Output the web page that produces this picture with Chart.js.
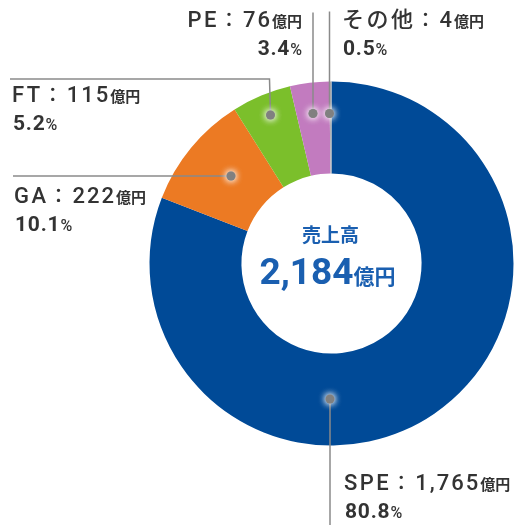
<!DOCTYPE html>
<html lang="ja">
<head>
<meta charset="utf-8">
<script src="https://cdn.jsdelivr.net/npm/chart.js@4/dist/chart.umd.min.js"></script>
<style>
  html, body { margin: 0; padding: 0; background: #fff; }
  canvas { display: block; }
</style>
</head>
<body>
<canvas id="sales" width="518" height="525"></canvas>
<script>
// 売上高の内訳（億円）
const segments = ['SPE', 'GA', 'FT', 'PE', 'その他'];
const amounts = [1765, 222, 115, 76, 4];
const shares = ['80.8', '10.1', '5.2', '3.4', '0.5'];
const totalLabel = '2,184';

const COLORS = ['#004a97', '#ec7a23', '#7bbf2b', '#c27bbf', '#b4b4b4'];
const TEXT = '#333333';
const BLUE_TEXT = '#1a5fb0';
const LATIN = '"Roboto", "Noto Sans CJK JP", sans-serif';

// 引き出し線：中心からの点の位置、線の折れ点、ラベル位置
const callouts = [
  { dot: [-1.5, 135.5], path: [[-1.5, 262]], label: [344, 490], align: 'left' },   // SPE
  { dot: [-100.5, -87.5], path: [[-318.5, -87.5]], label: [14, 203], align: 'left' }, // GA
  { dot: [-61, -148.5], path: [[-62, -184.5], [-321.5, -184.5]], label: [12, 102], align: 'left' }, // FT
  { dot: [-18.5, -150], path: [[-18.5, -251]], label: [302, 27], align: 'right' },  // PE
  { dot: [-2, -150], path: [[-2, -252]], label: [342, 27], align: 'left' },         // その他
];

// 文字片を並べて描く： [text, font, letterSpacing, 後ろの余白]
const drawParts = (ctx, parts, x, y, align) => {
  const widths = parts.map(([t, font, ls = 0, gap = 0]) => {
    ctx.font = font;
    ctx.letterSpacing = ls + 'px';
    return ctx.measureText(t).width + gap;
  });
  const total = widths.reduce((a, b) => a + b, 0);
  let cx = align === 'right' ? x - total : align === 'center' ? x - total / 2 : x;
  ctx.textAlign = 'left';
  ctx.textBaseline = 'alphabetic';
  parts.forEach(([t, font, ls = 0], i) => {
    ctx.font = font;
    ctx.letterSpacing = ls + 'px';
    ctx.fillText(t, cx, y);
    cx += widths[i];
  });
  ctx.letterSpacing = '0px';
};

const calloutPlugin = {
  id: 'callouts',
  afterDraw(chart) {
    const { ctx } = chart;
    const arc = chart.getDatasetMeta(0).data[0];
    const ox = arc.x, oy = arc.y;
    ctx.save();

    callouts.forEach((c, i) => {
      const dx = ox + c.dot[0], dy = oy + c.dot[1];
      // 線
      ctx.strokeStyle = '#8a8a8a';
      ctx.lineWidth = 1.5;
      ctx.beginPath();
      ctx.moveTo(dx, dy);
      c.path.forEach(([px, py]) => ctx.lineTo(ox + px, oy + py));
      ctx.stroke();
      // 点（白いにじみ付き）
      ctx.save();
      ctx.shadowColor = 'rgba(255,255,255,0.95)';
      ctx.shadowBlur = 7;
      ctx.fillStyle = '#808080';
      for (let k = 0; k < 2; k++) {
        ctx.beginPath();
        ctx.arc(dx, dy, 4.5, 0, Math.PI * 2);
        ctx.fill();
      }
      ctx.restore();

      // ラベル
      ctx.fillStyle = TEXT;
      const [lx, ly] = c.label;
      drawParts(ctx, [
        [segments[i], `500 22px ${LATIN}`, 2.5, 0],
        ['：', `500 20px "Noto Sans CJK JP"`, 0, 4],
        [amounts[i].toLocaleString('en-US'), `500 22px ${LATIN}`, 2, 0],
        ['億円', `bold 15px "Noto Sans CJK JP"`, 0, 0],
      ], lx, ly, c.align);
      drawParts(ctx, [
        [shares[i], `bold 21px ${LATIN}`, 0.8, 0],
        ['%', `500 16px ${LATIN}`, 0, 0],
      ], c.align === 'right' ? lx : lx + 1, ly + 28, c.align);
    });

    // 中央の合計
    ctx.fillStyle = BLUE_TEXT;
    drawParts(ctx, [['売上高', `bold 19px "Noto Sans CJK JP"`]], ox - 1, oy - 22, 'center');
    drawParts(ctx, [
      [totalLabel, `bold 37px ${LATIN}`],
      ['億円', `bold 21px "Noto Sans CJK JP"`],
    ], ox - 4, oy + 20, 'center');

    ctx.restore();
  },
};

new Chart(document.getElementById('sales'), {
  type: 'doughnut',
  data: {
    labels: segments,
    datasets: [{
      data: amounts,
      backgroundColor: COLORS,
      hoverBackgroundColor: COLORS,
      borderWidth: 0,
      hoverOffset: 0,
    }],
  },
  options: {
    responsive: false,
    animation: false,
    cutout: '49.5%',
    rotation: 0,
    layout: { padding: { left: 149.5, right: 4.5, top: 81.5, bottom: 79.5 } },
    plugins: {
      legend: { display: false },
      tooltip: { enabled: false },
    },
    events: [],
  },
  plugins: [calloutPlugin],
});
</script>
</body>
</html>
